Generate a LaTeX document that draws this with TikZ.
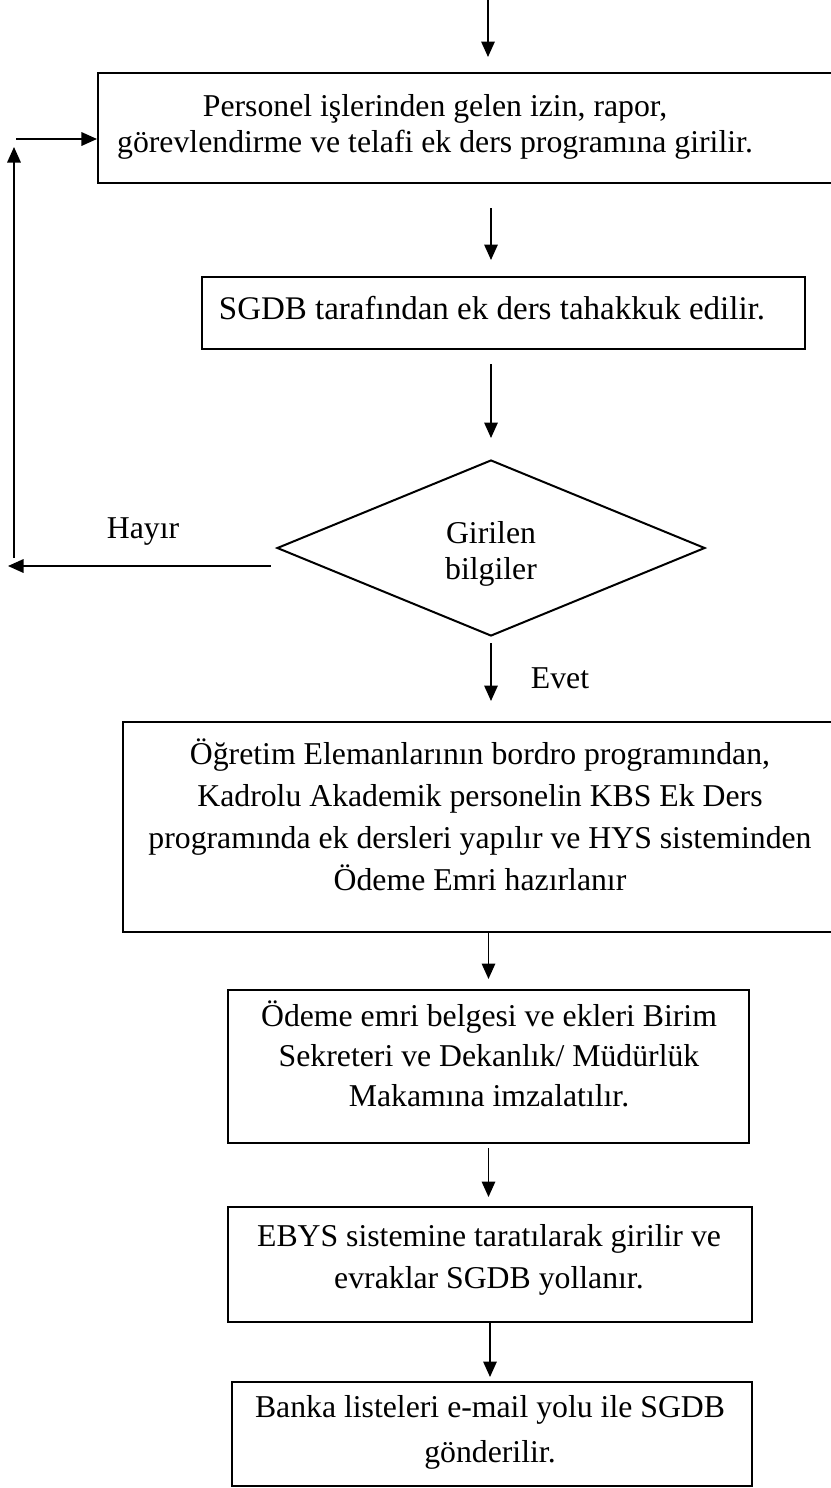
\documentclass[tikz,border=0pt]{standalone}
\usepackage{fontspec}
\setmainfont{Liberation Serif}
\usetikzlibrary{arrows.meta,shapes.geometric}
\tikzset{
	kutu/.style={draw, line width=.8pt, inner sep=0pt},
	yazi/.style={font=\fontsize{12.7}{14.2}\selectfont, align=center, inner sep=0pt},
	ok/.style={-{Triangle[length=6.2pt,width=5.4pt]}, line width=.65pt}
}

\begin{document}
\begin{tikzpicture}[x=.4pt,y=-.4pt]
	\useasboundingbox (0,0) rectangle (831,1488);
	% kutular
	\node [kutu, minimum width=296.8pt, minimum height=44pt] (pers) at (469,128) {};
	\node [kutu, minimum width=241.2pt, minimum height=28.8pt] (sgdb) at (503.5,313) {};
	\node [yazi, draw, diamond, line width=.8pt, minimum width=171.2pt, minimum height=70.4pt] (karar) at (491,548) {};
	\node [kutu, minimum width=286.8pt, minimum height=84pt] (ogr) at (481.5,827) {};
	\node [kutu, minimum width=208.4pt, minimum height=61.2pt] (odeme) at (488.5,1066.5) {};
	\node [kutu, minimum width=209.6pt, minimum height=46pt] (ebys) at (490,1264.5) {};
	\node [kutu, minimum width=208pt, minimum height=41.6pt] (banka) at (492,1434) {};
	% yazilar
	\node [yazi] (perstxt) at (435,127) {Personel işlerinden gelen izin, rapor,\\görevlendirme ve telafi ek ders programına girilir.};
	\node [yazi, font=\fontsize{13.2}{14.2}\selectfont] (sgdbtxt) at (492,308) {SGDB tarafından ek ders tahakkuk edilir.};
	\node [yazi] (karartxt) at (491,554) {Girilen\\bilgiler};
	\node [yazi, font=\fontsize{12.7}{16.8}\selectfont] (ogrtxt) at (480,815) {Öğretim Elemanlarının bordro programından,\\Kadrolu Akademik personelin KBS Ek Ders\\programında ek dersleri yapılır ve HYS sisteminden\\Ödeme Emri hazırlanır};
	\node [yazi, font=\fontsize{12.7}{16}\selectfont] (odemetxt) at (489,1053.5) {Ödeme emri belgesi ve ekleri Birim\\Sekreteri ve Dekanlık/ Müdürlük\\Makamına imzalatılır.};
	\node [yazi, font=\fontsize{12.7}{16.8}\selectfont] (ebystxt) at (489,1259.5) {EBYS sistemine taratılarak girilir ve\\evraklar SGDB yollanır.};
	\node [yazi, font=\fontsize{12.7}{18}\selectfont] (bankatxt) at (490,1432) {Banka listeleri e-mail yolu ile SGDB\\gönderilir.};
	% etiketler
	\node [yazi] (hayir) at (143,532) {Hayır};
	\node [yazi] (evet) at (560,678) {Evet};
	% oklar
	\coordinate (bas) at (488,0);
	\coordinate (sol) at (8,566);
	\coordinate (solalt) at (14,558);
	\coordinate (solust) at (14,147);
	\coordinate (girdi) at (16,139);
	\draw [ok, shorten >=6pt] (bas) -- (bas |- pers.north);
	\draw [ok, shorten <=9.6pt, shorten >=6.4pt] (pers.south -| karar.north) -- (sgdb.north -| karar.north);
	\draw [ok, shorten <=5.6pt, shorten >=8.4pt] (sgdb.south -| karar.north) -- (karar.north);
	\draw [ok, shorten <=2.4pt, shorten >=8pt] (karar.south) -- (karar.south |- ogr.north);
	\draw [ok, shorten <=2pt] ([yshift=-7.2pt]karar.west) -- (sol);
	\draw [ok] (solalt) -- (solust);
	\draw [ok] (girdi) -- (girdi -| pers.west);
	\draw [ok, shorten >=4pt] (ogr.south -| odeme.north) -- (odeme.north);
	\draw [ok, shorten <=1.6pt, shorten >=3.6pt] (odeme.south) -- (ebys.north -| odeme.south);
	\draw [ok, shorten >=1.6pt] (ebys.south) -- (banka.north -| ebys.south);
\end{tikzpicture}
\end{document}
